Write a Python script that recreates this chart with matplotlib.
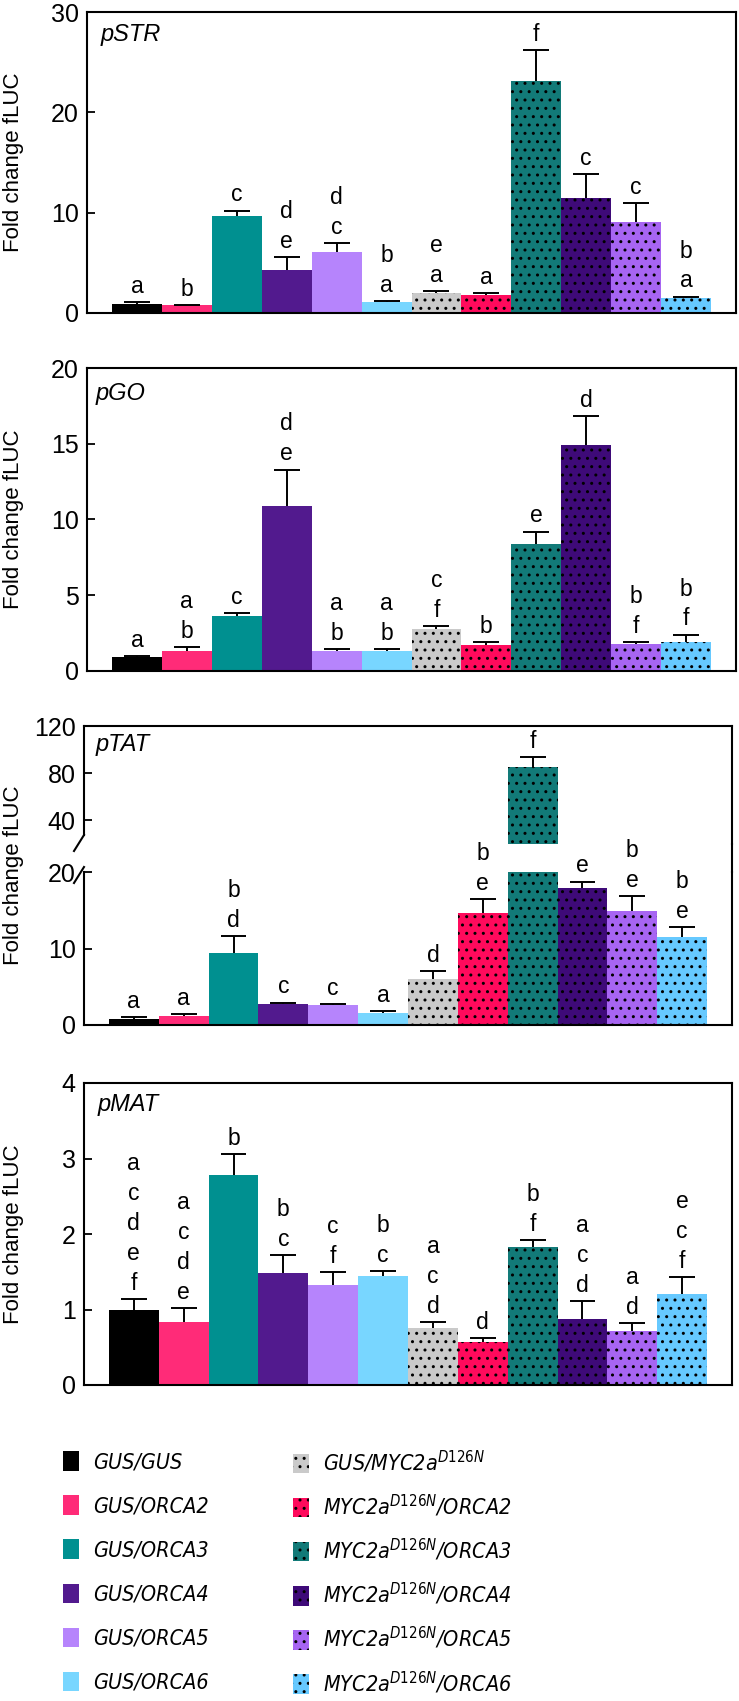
import matplotlib
matplotlib.use("Agg")
import matplotlib.pyplot as plt
from matplotlib import font_manager
from matplotlib.patches import Patch
from matplotlib.lines import Line2D
import numpy as np

# =========================================================================================
# dados
grupos = ["GUS/GUS", "GUS/ORCA2", "GUS/ORCA3", "GUS/ORCA4", "GUS/ORCA5", "GUS/ORCA6",
          "GUS/MYC2a$^{\\mathit{D126N}}$", "MYC2a$^{\\mathit{D126N}}$/ORCA2",
          "MYC2a$^{\\mathit{D126N}}$/ORCA3", "MYC2a$^{\\mathit{D126N}}$/ORCA4",
          "MYC2a$^{\\mathit{D126N}}$/ORCA5", "MYC2a$^{\\mathit{D126N}}$/ORCA6"]

str_media = [0.9, 0.78, 9.7, 4.3, 6.1, 1.13, 1.96, 1.79, 23.1, 11.5, 9.1, 1.46]
str_erro = [0.2, 0.05, 0.5, 1.25, 0.9, 0.08, 0.26, 0.17, 3.1, 2.35, 1.85, 0.17]
str_letras = [["a"], ["b"], ["c"], ["d", "e"], ["d", "c"], ["b", "a"],
              ["e", "a"], ["a"], ["f"], ["c"], ["c"], ["b", "a"]]

go_media = [0.9, 1.3, 3.6, 10.9, 1.34, 1.34, 2.79, 1.72, 8.35, 14.95, 1.8, 1.91]
go_erro = [0.1, 0.3, 0.23, 2.4, 0.11, 0.11, 0.16, 0.18, 0.85, 1.9, 0.11, 0.49]
go_letras = [["a"], ["a", "b"], ["c"], ["d", "e"], ["a", "b"], ["a", "b"],
             ["c", "f"], ["b"], ["e"], ["d"], ["b", "f"], ["b", "f"]]

tat_media = [0.8, 1.22, 9.4, 2.75, 2.55, 1.6, 6.0, 14.6, 85.0, 17.9, 14.95, 11.55]
tat_erro = [0.2, 0.18, 2.2, 0.18, 0.2, 0.27, 1.0, 1.9, 9.0, 0.85, 1.95, 1.3]
tat_letras = [["a"], ["a"], ["b", "d"], ["c"], ["c"], ["a"],
              ["d"], ["b", "e"], ["f"], ["e"], ["b", "e"], ["b", "e"]]

mat_media = [0.99, 0.83, 2.78, 1.49, 1.32, 1.44, 0.76, 0.57, 1.83, 0.87, 0.72, 1.21]
mat_erro = [0.15, 0.19, 0.28, 0.23, 0.18, 0.07, 0.07, 0.05, 0.09, 0.24, 0.1, 0.22]
mat_letras = [["a", "c", "d", "e", "f"], ["a", "c", "d", "e"], ["b"], ["b", "c"], ["c", "f"], ["b", "c"],
              ["a", "c", "d"], ["d"], ["b", "f"], ["a", "c", "d"], ["a", "d"], ["e", "c", "f"]]

# =========================================================================================
# estilo
cores = ["#000000", "#FF2B78", "#009090", "#521A8E", "#B684FC", "#78D6FF",
         "#CACACA", "#FF0A5C", "#127A78", "#3E0A78", "#A765F2", "#66C9FF"]
hachuras = [""] * 6 + [".."] * 6


def fonte_ok(nome):
    try:
        font_manager.findfont(nome, fallback_to_default=False)
        return True
    except ValueError:
        return False


# fonte estreita para a legenda (Arial Narrow no original)
if fonte_ok("Liberation Sans Narrow"):
    fonte_leg, esticar = "Liberation Sans Narrow", "normal"
elif "Condensed" in font_manager.findfont(font_manager.FontProperties(family="DejaVu Sans", stretch="condensed")):
    fonte_leg, esticar = "DejaVu Sans", "condensed"
else:
    fonte_leg, esticar = "Liberation Sans", "normal"

plt.rcParams["font.family"] = ["Liberation Sans", "DejaVu Sans"]
plt.rcParams["hatch.color"] = "black"
plt.rcParams["mathtext.fontset"] = "custom"
plt.rcParams["mathtext.it"] = fonte_leg + ":style=italic:stretch=" + esticar
plt.rcParams["mathtext.rm"] = fonte_leg + ":stretch=" + esticar

W, H = 739, 1701
fig = plt.figure(figsize=(W / 100, H / 100), dpi=100)


def eixo(esq, topo, dir_, base):
    ax = fig.add_axes([esq / W, 1 - base / H, (dir_ - esq) / W, (base - topo) / H])
    ax.set_xlim(-1.0, 12.0)
    ax.set_xticks([])
    ax.tick_params(axis="y", direction="in", length=6, width=1.3, labelsize=18, pad=6)
    for s in ax.spines.values():
        s.set_linewidth(1.5)
    return ax


def desenha(ax, media, erro, letras, ymin, ymax):
    x = np.arange(len(media))
    barras = ax.bar(x, media, width=1.0, color=cores, edgecolor="black", linewidth=0)
    for b, h in zip(barras, hachuras):
        b.set_hatch(h)
    topo = np.array(media) + np.array(erro)
    ax.vlines(x, media, topo, color="k", lw=1.4)
    ax.hlines(topo, x - 0.26, x + 0.26, color="k", lw=1.4)
    for xi, t, l in zip(x, topo, letras):
        if ymin <= t < ymax:
            ax.annotate("\n".join(l), (xi, t), xytext=(0, 3), textcoords="offset points",
                        ha="center", va="bottom", fontsize=16.5, linespacing=1.38)
    ax.set_ylim(ymin, ymax)


def titulo(ax, texto, dx, dy):
    ax.annotate(texto, (0, 1), xycoords="axes fraction", xytext=(dx * 0.72, -dy * 0.72),
                textcoords="offset points", ha="left", va="center", style="italic", fontsize=17)


def rotulo_y(topo, base):
    fig.text(14 / W, 1 - (topo + base) / 2 / H, "Fold change fLUC", rotation=90,
             ha="center", va="center", fontsize=16)


# --- pSTR ---
ax1 = eixo(87, 12, 736, 313)
desenha(ax1, str_media, str_erro, str_letras, 0, 30)
ax1.set_yticks([0, 10, 20, 30])
titulo(ax1, "pSTR", 14, 23)
rotulo_y(12, 313)

# --- pGO ---
ax2 = eixo(87, 368, 736, 671)
desenha(ax2, go_media, go_erro, go_letras, 0, 20)
ax2.set_yticks([0, 5, 10, 15, 20])
titulo(ax2, "pGO", 9, 25)
rotulo_y(368, 671)

# --- pTAT (eixo quebrado) ---
ax3a = eixo(84, 726, 732, 844)
ax3b = eixo(84, 872, 732, 1025)
desenha(ax3a, tat_media, tat_erro, tat_letras, 20, 120)
desenha(ax3b, tat_media, tat_erro, tat_letras, 0, 20)
ax3a.set_yticks([40, 80, 120])
ax3b.set_yticks([0, 10, 20])
ax3a.spines["bottom"].set_visible(False)
ax3b.spines["top"].set_visible(False)
titulo(ax3a, "pTAT", 12, 18)
rotulo_y(726, 1025)
# marcas de quebra
kw = dict(color="k", lw=1.5, clip_on=False)
ax3a.plot([-10 / 648, 0], [-7 / 118, 9 / 118], transform=ax3a.transAxes, **kw)
ax3b.plot([-10 / 648, 0], [1 - 11 / 153, 1 + 5 / 153], transform=ax3b.transAxes, **kw)
ax3a.spines["left"].set_bounds(20 + 9 / 1.18, 120)
fig.add_artist(Line2D([732 / W, 732 / W], [1 - 844 / H, 1 - 872 / H], color="k", lw=1.5))

# --- pMAT ---
ax4 = eixo(84, 1083, 732, 1385)
desenha(ax4, mat_media, mat_erro, mat_letras, 0, 4)
ax4.set_yticks([0, 1, 2, 3, 4])
titulo(ax4, "pMAT", 14, 22)
rotulo_y(1083, 1385)

# --- legenda (duas colunas, cada uma uma legenda) ---
alcas = [Patch(facecolor=c, edgecolor="black", linewidth=0, hatch=h) for c, h in zip(cores, hachuras)]
prop = font_manager.FontProperties(family=fonte_leg, style="italic", stretch=esticar, size=15.5)
for i, (x0, y0, esp) in enumerate([(63, 1451, 1.07), (293, 1449, 0.83)]):
    fig.legend(alcas[6 * i:6 * i + 6], grupos[6 * i:6 * i + 6], loc="upper left",
               bbox_to_anchor=(x0 / W, 1 - y0 / H), frameon=False, prop=prop,
               handlelength=0.74, handleheight=1.02, handletextpad=0.65,
               labelspacing=esp, borderpad=0, borderaxespad=0)

fig.savefig("out.png", dpi=100)
